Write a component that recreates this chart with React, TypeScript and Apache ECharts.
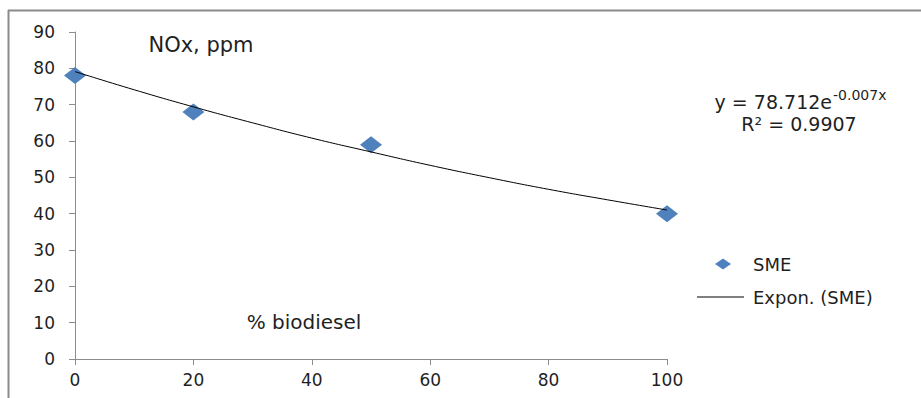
import React, { useEffect, useRef } from "react";
import * as echarts from "echarts";

const smeX = [0, 20, 50, 100];
const smeY = [78, 68, 59, 40];
const trendX = [0, 10, 20, 30, 40, 50, 60, 70, 80, 90, 100];
const trendY = [79.1, 74.1, 69.4, 65.0, 60.8, 57.0, 53.3, 49.9, 46.7, 43.8, 41.0];
const seriesName = "SME";
const trendName = "Expon. (SME)";
const titleText = "NOx, ppm";
const xAxisText = "% biodiesel";
const eqMain = "y = 78.712e";
const eqSup = "-0.007x";
const eqR2 = "R² = 0.9907";

const FONT = "'DejaVu Sans', 'Liberation Sans', sans-serif";
const TEXT = "#1f1f1f";

export default function App() {
  const ref = useRef<HTMLDivElement>(null);
  useEffect(() => {
    document.body.style.margin = "0";
    const chart = echarts.init(ref.current!, undefined, { renderer: "svg" });
    chart.setOption({
      animation: false,
      backgroundColor: "#ffffff",
      textStyle: { fontFamily: FONT },
      grid: { left: 75, right: 254, top: 32, bottom: 39, containLabel: false },
      xAxis: {
        type: "value",
        min: 0,
        max: 100,
        interval: 20,
        splitLine: { show: false },
        axisLine: { show: true, lineStyle: { color: "#8c8c8c", width: 1 } },
        axisTick: { show: true, length: 6, lineStyle: { color: "#8c8c8c" } },
        axisLabel: { color: TEXT, fontSize: 17, fontFamily: FONT, margin: 12 },
      },
      yAxis: {
        type: "value",
        min: 0,
        max: 90,
        interval: 10,
        splitLine: { show: false },
        axisLine: { show: true, lineStyle: { color: "#8c8c8c", width: 1 } },
        axisTick: { show: true, length: 6, lineStyle: { color: "#8c8c8c" } },
        axisLabel: { color: TEXT, fontSize: 17, fontFamily: FONT, margin: 20 },
      },
      legend: [
        {
          left: 715,
          top: 255,
          padding: 0,
          itemWidth: 16,
          itemHeight: 11,
          data: [{ name: seriesName, icon: "diamond" }],
          itemStyle: { opacity: 1 },
          textStyle: { color: TEXT, fontSize: 18, fontFamily: FONT, padding: [0, 0, 0, 17] },
        },
        {
          left: 697,
          top: 288,
          padding: 0,
          itemWidth: 47,
          itemHeight: 1,
          data: [{ name: trendName, icon: "rect" }],
          itemStyle: { color: "#000000" },
          textStyle: { color: TEXT, fontSize: 18, fontFamily: FONT, padding: [0, 0, 0, 4] },
        },
      ],
      series: [
        {
          name: seriesName,
          type: "scatter",
          symbol: "diamond",
          symbolSize: [22, 17],
          itemStyle: { color: "#4f81bd", opacity: 1 },
          data: smeX.map((x, i) => [x, smeY[i]]),
          z: 2,
        },
        {
          name: trendName,
          type: "line",
          smooth: true,
          symbol: "none",
          showSymbol: false,
          lineStyle: { color: "#000000", width: 1 },
          itemStyle: { color: "#000000" },
          data: trendX.map((x, i) => [x, trendY[i]]),
          z: 3,
        },
      ],
      graphic: [
        { type: "line", shape: { x1: 8.5, y1: 10, x2: 8.5, y2: 398 }, style: { stroke: "#8a8a8a", lineWidth: 2 } },
        { type: "line", shape: { x1: 8, y1: 10.5, x2: 921, y2: 10.5 }, style: { stroke: "#8a8a8a", lineWidth: 2 } },
        {
          type: "text",
          x: 201,
          y: 45,
          style: { text: titleText, fill: TEXT, fontSize: 21, fontFamily: FONT, textAlign: "center", textVerticalAlign: "middle" },
        },
        {
          type: "text",
          x: 304,
          y: 322,
          style: { text: xAxisText, fill: TEXT, fontSize: 20, fontFamily: FONT, textAlign: "center", textVerticalAlign: "middle" },
        },
        {
          type: "text",
          x: 832,
          y: 102,
          style: { text: eqMain, fill: TEXT, fontSize: 19, fontFamily: FONT, textAlign: "right", textVerticalAlign: "middle" },
        },
        {
          type: "text",
          x: 833,
          y: 95,
          style: { text: eqSup, fill: TEXT, fontSize: 14, fontFamily: FONT, textAlign: "left", textVerticalAlign: "middle" },
        },
        {
          type: "text",
          x: 799,
          y: 124,
          style: { text: eqR2, fill: TEXT, fontSize: 19, fontFamily: FONT, textAlign: "center", textVerticalAlign: "middle" },
        },
      ],
    });
    return () => chart.dispose();
  }, []);
  return <div ref={ref} style={{ width: 921, height: 398 }} />;
}
